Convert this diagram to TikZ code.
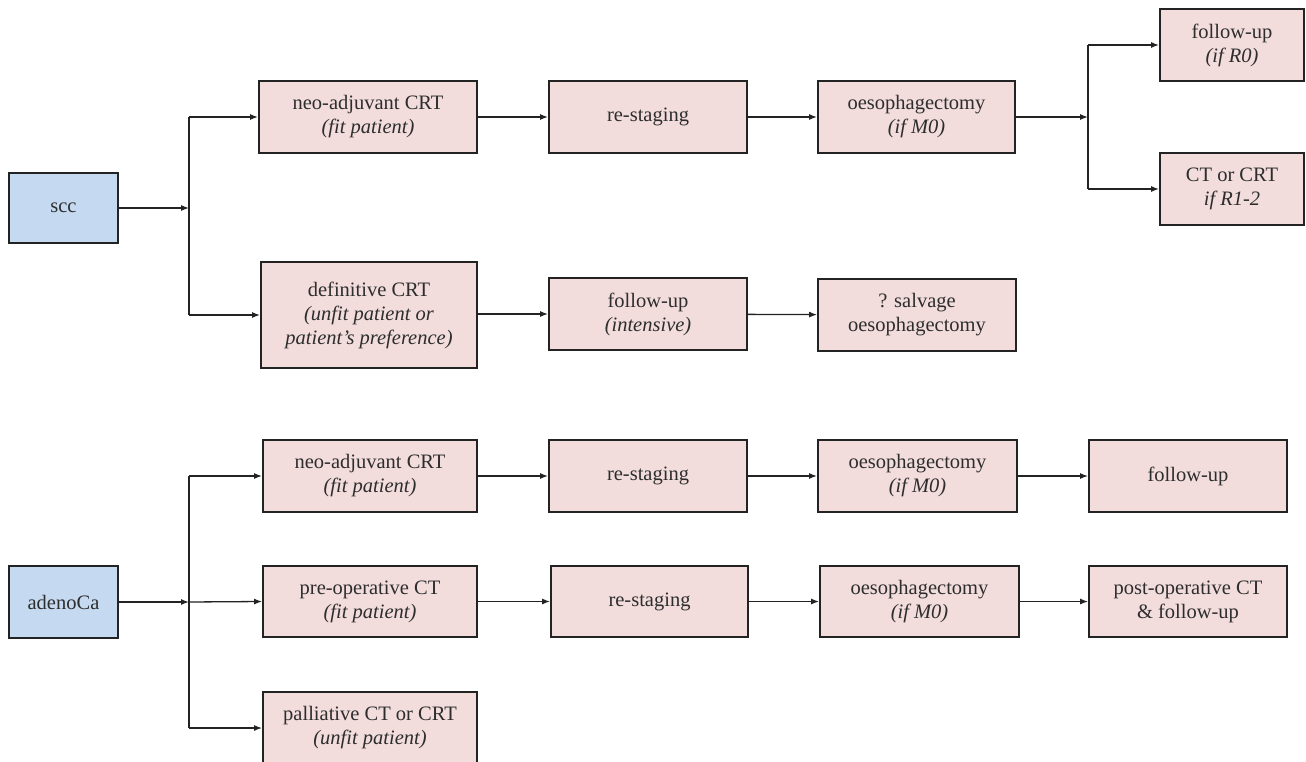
\documentclass[tikz,border=0pt]{standalone}
\usepackage{fontspec}
\setmainfont{Liberation Serif}
\usetikzlibrary{arrows.meta}
\definecolor{pinkfill}{RGB}{242,220,220}
\definecolor{bluefill}{RGB}{197,217,241}
\definecolor{edge}{RGB}{35,35,35}
\definecolor{txt}{RGB}{45,45,45}
\tikzset{
  box/.style={draw=edge, line width=1.8pt, fill=pinkfill, align=center, text=txt,
    inner sep=2pt, font=\fontsize{20.5}{24}\selectfont},
  srcbox/.style={box, fill=bluefill},
  arr/.style={draw=edge, line width=1.3pt, -{Latex[length=8pt,width=6pt]}},
  ln/.style={draw=edge, line width=1.3pt},
}
\begin{document}
\begin{tikzpicture}[x=1pt,y=-1pt]
\useasboundingbox (0,0) rectangle (1306,762);
\fill[white] (0,0) rectangle (1306,762);
% SCC branch
\node[srcbox, minimum width=109pt, minimum height=70pt] (scc) at (63.5,208) {scc};
\node[box, minimum width=218pt, minimum height=72pt] (n1) at (368,117) {neo-adjuvant CRT\\\textit{(fit patient)}};
\node[box, minimum width=198pt, minimum height=72pt] (r1) at (648,117) {re-staging};
\node[box, minimum width=197pt, minimum height=72pt] (o1) at (916.5,117) {oesophagectomy\\\textit{(if M0)}};
\node[box, minimum width=144pt, minimum height=72pt] (f1) at (1232,45) {follow-up\\\textit{(if R0)}};
\node[box, minimum width=144pt, minimum height=72pt] (c1) at (1232,189) {CT or CRT\\\textit{if R1-2}};
\node[box, minimum width=216pt, minimum height=106pt] (d1) at (369,315) {definitive CRT\\\textit{(unfit patient or}\\\textit{patient’s preference)}};
\node[box, minimum width=198pt, minimum height=72pt] (f2) at (648,314) {follow-up\\\textit{(intensive)}};
\node[box, minimum width=198pt, minimum height=72pt] (s1) at (917,315) {? salvage\\oesophagectomy};
% adenoCa branch
\node[srcbox, minimum width=109pt, minimum height=72pt] (ad) at (63.5,602) {adenoCa};
\node[box, minimum width=214pt, minimum height=72pt] (n2) at (370,476) {neo-adjuvant CRT\\\textit{(fit patient)}};
\node[box, minimum width=198pt, minimum height=72pt] (r2) at (648,476) {re-staging};
\node[box, minimum width=199pt, minimum height=72pt] (o2) at (917.5,476) {oesophagectomy\\\textit{(if M0)}};
\node[box, minimum width=198pt, minimum height=72pt] (f3) at (1188,476) {follow-up};
\node[box, minimum width=214pt, minimum height=71pt] (p1) at (370,601.5) {pre-operative CT\\\textit{(fit patient)}};
\node[box, minimum width=197pt, minimum height=71pt] (r3) at (649.5,601.5) {re-staging};
\node[box, minimum width=199pt, minimum height=71pt] (o3) at (919.5,601.5) {oesophagectomy\\\textit{(if M0)}};
\node[box, minimum width=198pt, minimum height=71pt] (pc) at (1188,601.5) {post-operative CT\\\&~follow-up};
\node[box, minimum width=214pt, minimum height=72pt] (pal) at (370,728) {palliative CT or CRT\\\textit{(unfit patient)}};
% junction coordinates
\coordinate (j1) at (189,208);
\coordinate (j1a) at (189,117);
\coordinate (j1b) at (189,315);
\coordinate (j2) at (1088,117);
\coordinate (j2a) at (1088,45);
\coordinate (j2b) at (1088,189);
\coordinate (j3) at (189,602);
\coordinate (j3a) at (189,476);
\coordinate (j3b) at (189,728);
% connectors SCC
\draw[arr] (scc.east) -- (j1);
\draw[ln] (j1a) -- (j1b);
\draw[arr] (j1a) -- (n1.west);
\draw[arr] (j1b) -- (d1.west);
\draw[arr] (n1) -- (r1);
\draw[arr] (r1) -- (o1);
\draw[arr] (o1.east) -- (j2);
\draw[ln] (j2a) -- (j2b);
\draw[arr] (j2a) -- (f1.west);
\draw[arr] (j2b) -- (c1.west);
\draw[arr] (d1.east |- f2.west) -- (f2.west);
\draw[arr] (f2) -- (s1);
% connectors adenoCa
\draw[arr] (ad.east) -- (j3);
\draw[ln] (j3a) -- (j3b);
\draw[arr] (j3a) -- (n2.west);
\draw[arr] (j3) -- (p1.west);
\draw[arr] (j3b) -- (pal.west);
\draw[arr] (n2) -- (r2);
\draw[arr] (r2) -- (o2);
\draw[arr] (o2) -- (f3);
\draw[arr] (p1) -- (r3);
\draw[arr] (r3) -- (o3);
\draw[arr] (o3) -- (pc);
\end{tikzpicture}
\end{document}
